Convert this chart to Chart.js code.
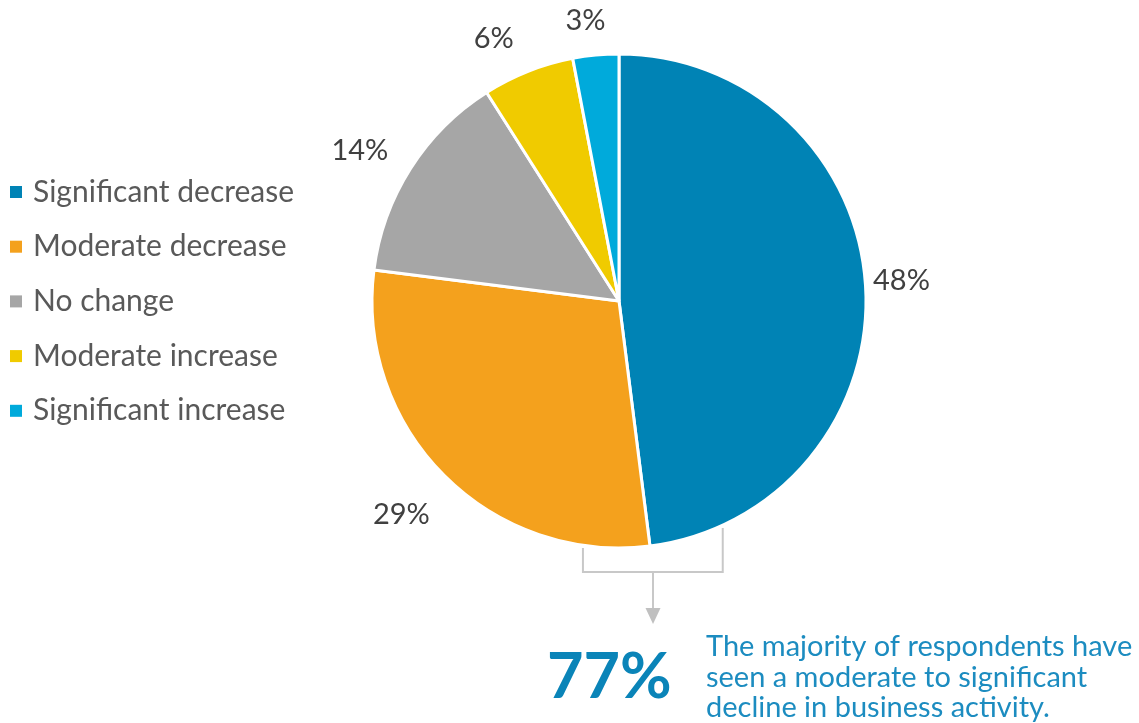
<!DOCTYPE html>
<html>
<head>
<meta charset="utf-8">
<script src="https://cdn.jsdelivr.net/npm/chart.js@4.4.1/dist/chart.umd.min.js"></script>
<style>
  html, body { margin: 0; padding: 0; background: #fff; }
  #wrap { width: 1139px; height: 723px; position: relative; }
</style>
</head>
<body>
<div id="wrap"><canvas id="activityPie" width="1139" height="723"></canvas></div>
<script>
// survey answers, share of respondents (%)
var categories = ['Significant decrease', 'Moderate decrease', 'No change', 'Moderate increase', 'Significant increase'];
var shares = [48, 29, 14, 6, 3];
var sliceColors = ['#0083B5', '#F4A11D', '#A6A6A6', '#F0CB00', '#00AADB'];
var headline = '77%';
var noteLines = ['The majority of respondents have', 'seen a moderate to significant', 'decline in business activity.'];

var FONT = 'Lato, "Noto Sans", sans-serif';
// small hand nudges for the outside labels (px), like excel moves them
var labelNudge = [[-15, -2], [-8, 4], [-7, 10], [-20, 4], [-7, 0]];

// percent labels outside each slice
var outsideLabels = {
    id: 'outsideLabels',
    afterDatasetsDraw: function(chart) {
        var ctx = chart.ctx;
        var arcs = chart.getDatasetMeta(0).data;
        ctx.save();
        ctx.font = '29px ' + FONT;
        ctx.fillStyle = '#404040';
        ctx.textAlign = 'center';
        ctx.textBaseline = 'middle';
        arcs.forEach(function(arc, i) {
            var txt = shares[i] + '%';
            var mid = (arc.startAngle + arc.endAngle) / 2;
            var c = Math.cos(mid), s = Math.sin(mid);
            var half = Math.abs(c) * ctx.measureText(txt).width / 2 + Math.abs(s) * 10.5;
            var d = arc.outerRadius + 22 + half;
            ctx.fillText(txt, arc.x + c * d + labelNudge[i][0], arc.y + s * d + labelNudge[i][1]);
        });
        ctx.restore();
    }
};

// legend on the left, bracket + callout below
var extras = {
    id: 'extras',
    afterDraw: function(chart) {
        var ctx = chart.ctx;
        var arc = chart.getDatasetMeta(0).data[0];
        var cx = arc.x, cy = arc.y, r = arc.outerRadius;
        ctx.save();

        ctx.font = '30px ' + FONT;
        ctx.textBaseline = 'middle';
        ctx.textAlign = 'left';
        categories.forEach(function(name, i) {
            var y = 192 + i * 54.7;
            ctx.fillStyle = sliceColors[i];
            ctx.fillRect(10, y - 6, 12, 12);
            ctx.fillStyle = '#595959';
            ctx.fillText(name, 33, y);
        });

        // bracket
        var left = cx - 0.146 * r, right = cx + 0.420 * r, bottom = cy + r + 24;
        ctx.strokeStyle = '#C8C8C8';
        ctx.lineWidth = 2;
        ctx.beginPath();
        ctx.moveTo(left, cy + r);
        ctx.lineTo(left, bottom);
        ctx.lineTo(right, bottom);
        ctx.lineTo(right, cy + r - 20);
        ctx.stroke();
        var ax = cx + 34;
        ctx.beginPath();
        ctx.moveTo(ax, bottom);
        ctx.lineTo(ax, bottom + 38);
        ctx.stroke();
        ctx.fillStyle = '#C0C0C0';
        ctx.beginPath();
        ctx.moveTo(ax - 7.5, bottom + 36);
        ctx.lineTo(ax + 7.5, bottom + 36);
        ctx.lineTo(ax, bottom + 52);
        ctx.closePath();
        ctx.fill();

        ctx.fillStyle = '#0A84B8';
        ctx.font = 'bold 63px ' + FONT;
        ctx.textBaseline = 'alphabetic';
        ctx.fillText(headline, 547, 698);

        ctx.fillStyle = '#1C8CC0';
        ctx.font = '29px ' + FONT;
        noteLines.forEach(function(line, i) {
            ctx.fillText(line, 706, 656 + i * 30.5);
        });
        ctx.restore();
    }
};

var chart = new Chart(document.getElementById('activityPie').getContext('2d'), {
    type: 'pie',
    data: {
        labels: categories,
        datasets: [{
            data: shares,
            backgroundColor: sliceColors,
            borderColor: '#ffffff',
            borderWidth: 3,
            radius: 247
        }]
    },
    options: {
        responsive: false,
        animation: false,
        layout: { padding: { left: 372, right: 273, top: 54, bottom: 175 } },
        plugins: {
            legend: { display: false },
            tooltip: { enabled: false }
        }
    },
    plugins: [outsideLabels, extras]
});
</script>
</body>
</html>
